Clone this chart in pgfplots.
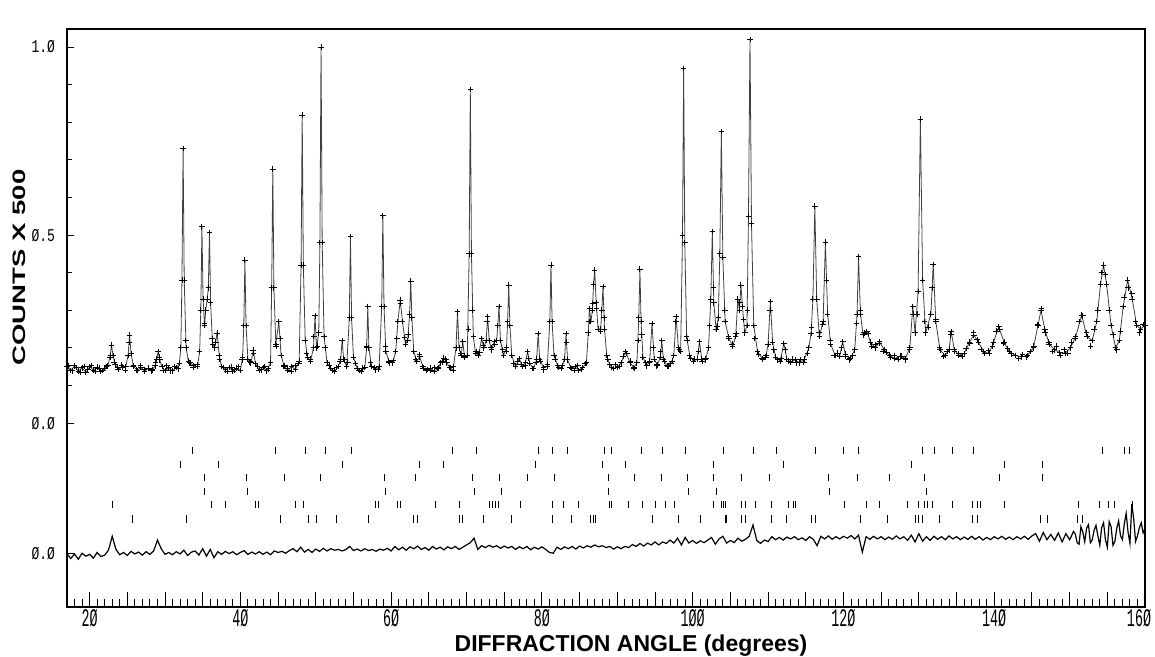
\documentclass[border=0pt]{standalone}
\usepackage{fontspec}
\setmainfont{Liberation Sans}
\newfontfamily\ytfont[FakeStretch=0.72]{Liberation Mono}
\newfontfamily\xtfont[FakeStretch=0.53]{Liberation Mono}
\usepackage{graphicx}
\usepackage{pgfplots}
\usepackage{pgfplotstable}
\pgfplotsset{compat=1.18}

\pgfplotstableread{
x y
17.0 0.150
17.5 0.140
18.0 0.152
18.5 0.138
19.0 0.147
19.5 0.135
20.0 0.150
20.5 0.141
21.0 0.149
21.5 0.137
22.0 0.146
22.4 0.152
22.7 0.175
22.9 0.207
23.1 0.180
23.4 0.155
23.8 0.143
24.3 0.149
24.8 0.150
25.1 0.180
25.3 0.234
25.5 0.185
25.8 0.152
26.3 0.140
26.8 0.148
27.3 0.138
27.8 0.146
28.3 0.142
28.7 0.152
28.9 0.170
29.1 0.190
29.3 0.168
29.6 0.150
30.0 0.140
30.5 0.147
31.0 0.139
31.5 0.148
31.9 0.158
32.1 0.200
32.25 0.380
32.4 0.730
32.55 0.380
32.8 0.200
33.1 0.165
33.4 0.160
33.8 0.152
34.3 0.150
34.6 0.190
34.75 0.300
34.9 0.522
35.05 0.330
35.25 0.260
35.4 0.300
35.6 0.330
35.75 0.360
35.9 0.507
36.05 0.320
36.3 0.210
36.6 0.200
36.9 0.239
37.2 0.180
37.5 0.150
38.0 0.142
38.5 0.148
39.0 0.138
39.5 0.146
40.0 0.140
40.3 0.175
40.45 0.260
40.6 0.433
40.75 0.260
41.0 0.170
41.4 0.160
41.7 0.194
42.0 0.158
42.5 0.141
43.0 0.148
43.5 0.139
44.0 0.160
44.15 0.360
44.3 0.675
44.45 0.360
44.7 0.210
45.1 0.270
45.4 0.180
45.8 0.152
46.3 0.140
46.8 0.150
47.3 0.143
47.8 0.165
48.05 0.420
48.2 0.819
48.35 0.420
48.6 0.220
48.9 0.175
49.3 0.165
49.7 0.200
49.9 0.285
50.1 0.200
50.4 0.240
50.55 0.480
50.7 1.000
50.85 0.480
51.1 0.230
51.5 0.160
52.0 0.145
52.5 0.138
53.0 0.150
53.3 0.170
53.5 0.219
53.7 0.170
54.1 0.150
54.45 0.280
54.6 0.496
54.75 0.280
55.0 0.175
55.5 0.145
56.0 0.138
56.5 0.148
56.75 0.200
56.9 0.310
57.05 0.200
57.4 0.150
57.9 0.142
58.4 0.150
58.75 0.310
58.9 0.551
59.05 0.310
59.3 0.190
59.7 0.165
60.2 0.160
60.6 0.190
60.9 0.270
61.2 0.327
61.5 0.270
61.9 0.210
62.2 0.220
62.45 0.290
62.6 0.378
62.75 0.280
63.0 0.190
63.4 0.165
63.8 0.176
64.2 0.150
64.7 0.140
65.2 0.146
65.7 0.138
66.2 0.145
66.6 0.160
67.0 0.173
67.4 0.160
67.8 0.147
68.2 0.141
68.6 0.200
68.8 0.296
69.0 0.200
69.3 0.180
69.5 0.216
69.75 0.175
70.1 0.180
70.35 0.450
70.5 0.887
70.65 0.450
70.9 0.230
71.2 0.185
71.6 0.180
72.0 0.225
72.3 0.200
72.6 0.220
72.8 0.283
73.0 0.220
73.3 0.195
73.7 0.216
74.0 0.220
74.15 0.260
74.3 0.310
74.5 0.220
74.9 0.180
75.3 0.200
75.45 0.270
75.6 0.367
75.75 0.260
76.0 0.180
76.5 0.150
77.0 0.172
77.4 0.150
77.8 0.160
78.1 0.190
78.4 0.158
78.9 0.145
79.3 0.170
79.5 0.238
79.7 0.170
80.2 0.148
80.7 0.150
81.05 0.270
81.2 0.420
81.35 0.270
81.6 0.180
82.1 0.152
82.6 0.145
83.0 0.170
83.2 0.238
83.4 0.168
83.9 0.145
84.4 0.150
84.9 0.140
85.4 0.148
85.9 0.160
86.15 0.240
86.3 0.305
86.5 0.270
86.7 0.300
86.85 0.370
87.0 0.407
87.2 0.320
87.45 0.250
87.8 0.250
87.95 0.300
88.1 0.363
88.3 0.250
88.6 0.180
89.0 0.155
89.5 0.145
90.0 0.148
90.5 0.160
91.1 0.190
91.7 0.160
92.2 0.148
92.6 0.160
92.85 0.280
93.0 0.409
93.15 0.270
93.4 0.175
93.9 0.152
94.3 0.165
94.6 0.265
94.9 0.170
95.3 0.155
95.7 0.175
95.9 0.220
96.1 0.170
96.6 0.152
97.1 0.158
97.5 0.180
97.8 0.283
98.1 0.200
98.4 0.190
98.65 0.500
98.8 0.943
98.95 0.480
99.2 0.230
99.6 0.180
100.1 0.165
100.6 0.170
100.9 0.216
101.2 0.170
101.7 0.168
102.1 0.200
102.4 0.330
102.6 0.509
102.8 0.320
103.1 0.250
103.4 0.280
103.6 0.450
103.8 0.775
104.0 0.440
104.3 0.270
104.8 0.225
105.3 0.205
105.7 0.230
106.0 0.330
106.2 0.300
106.4 0.367
106.6 0.310
106.9 0.240
107.2 0.260
107.4 0.550
107.6 1.020
107.8 0.530
108.1 0.260
108.6 0.190
109.2 0.172
109.7 0.175
110.0 0.210
110.3 0.323
110.6 0.215
111.0 0.175
111.6 0.165
112.1 0.212
112.5 0.170
113.0 0.162
113.6 0.168
114.2 0.160
114.8 0.170
115.4 0.200
115.7 0.238
115.95 0.330
116.2 0.577
116.45 0.330
116.8 0.230
117.3 0.270
117.6 0.481
117.9 0.290
118.3 0.210
118.9 0.180
119.5 0.178
119.9 0.216
120.3 0.178
120.9 0.172
121.5 0.195
121.8 0.290
122.0 0.442
122.25 0.290
122.6 0.235
123.1 0.243
123.6 0.215
124.2 0.200
124.8 0.216
125.4 0.195
126.1 0.180
126.8 0.172
127.5 0.178
128.2 0.172
128.8 0.200
129.2 0.310
129.5 0.240
129.9 0.350
130.2 0.808
130.5 0.380
130.9 0.240
131.6 0.290
131.9 0.422
132.25 0.270
132.8 0.195
133.5 0.180
134.0 0.195
134.3 0.243
134.7 0.195
135.3 0.180
136.0 0.185
136.7 0.215
137.3 0.234
137.9 0.215
138.6 0.190
139.3 0.185
139.9 0.215
140.6 0.256
141.3 0.215
142.0 0.190
142.8 0.180
143.6 0.176
144.4 0.180
145.2 0.200
145.8 0.260
146.2 0.300
146.7 0.250
147.3 0.210
148.0 0.195
148.7 0.188
149.4 0.185
150.1 0.200
150.8 0.230
151.6 0.287
152.3 0.230
153.0 0.220
153.6 0.270
154.1 0.370
154.5 0.420
154.9 0.370
155.5 0.260
156.1 0.200
156.6 0.220
157.1 0.310
157.7 0.380
158.3 0.330
158.9 0.260
159.4 0.250
160.0 0.260
}\profile

% further observed points between the profile points
\pgfplotstableread{
x y
17.25 0.152
17.75 0.139
18.25 0.148
18.75 0.136
19.25 0.150
19.75 0.143
20.25 0.153
20.75 0.138
21.25 0.146
21.75 0.140
22.25 0.151
22.75 0.180
23.25 0.162
23.75 0.149
24.25 0.154
24.75 0.140
25.25 0.215
25.75 0.150
26.25 0.141
26.75 0.152
27.25 0.143
27.75 0.145
28.25 0.139
28.75 0.160
29.25 0.175
29.75 0.140
30.25 0.152
30.75 0.139
31.25 0.150
31.75 0.144
32.75 0.220
33.25 0.160
33.75 0.148
34.25 0.155
35.25 0.265
36.25 0.225
36.75 0.215
37.25 0.170
37.75 0.148
38.25 0.138
38.75 0.149
39.25 0.142
39.75 0.150
40.25 0.168
41.25 0.163
41.75 0.185
42.25 0.150
42.75 0.142
43.25 0.151
43.75 0.144
44.75 0.205
45.25 0.225
45.75 0.150
46.25 0.146
46.75 0.138
47.25 0.152
47.75 0.158
48.75 0.185
49.25 0.170
49.75 0.230
50.25 0.205
51.25 0.200
51.75 0.152
52.25 0.140
52.75 0.148
53.25 0.165
53.75 0.168
54.25 0.162
55.25 0.158
55.75 0.140
56.25 0.146
56.75 0.205
57.25 0.160
57.75 0.148
58.25 0.143
59.25 0.205
59.75 0.160
60.25 0.166
60.75 0.225
61.25 0.318
61.75 0.228
62.25 0.235
63.25 0.170
63.75 0.182
64.25 0.146
64.75 0.143
65.25 0.140
65.75 0.148
66.25 0.147
66.75 0.163
67.25 0.170
67.75 0.148
68.25 0.150
69.25 0.185
69.75 0.178
70.25 0.250
70.75 0.300
71.25 0.190
71.75 0.188
72.25 0.207
72.75 0.270
73.25 0.200
73.75 0.210
74.75 0.195
75.25 0.190
76.25 0.158
76.75 0.163
77.25 0.156
77.75 0.152
78.25 0.172
78.75 0.145
79.25 0.162
79.75 0.165
80.25 0.142
80.75 0.155
81.75 0.170
82.25 0.148
82.75 0.153
83.25 0.215
83.75 0.148
84.25 0.140
84.75 0.152
85.25 0.143
85.75 0.158
86.25 0.270
86.75 0.318
87.25 0.305
87.75 0.245
88.25 0.280
88.75 0.170
89.25 0.148
89.75 0.155
90.25 0.150
90.75 0.178
91.25 0.185
91.75 0.165
92.25 0.145
92.75 0.220
93.25 0.235
93.75 0.160
94.25 0.160
94.75 0.200
95.25 0.152
95.75 0.190
96.25 0.165
96.75 0.150
97.25 0.165
97.75 0.270
98.25 0.195
99.25 0.220
99.75 0.172
100.25 0.170
100.75 0.190
101.25 0.165
101.75 0.172
102.25 0.260
102.75 0.360
103.25 0.258
104.25 0.300
104.75 0.230
105.25 0.210
105.75 0.238
106.25 0.320
106.75 0.275
107.25 0.300
108.25 0.225
108.75 0.182
109.25 0.170
109.75 0.180
110.25 0.300
110.75 0.195
111.25 0.168
111.75 0.172
112.25 0.195
112.75 0.165
113.25 0.170
113.75 0.160
114.25 0.168
114.75 0.162
115.25 0.185
115.75 0.255
116.75 0.240
117.25 0.262
117.75 0.380
118.25 0.220
118.75 0.180
119.25 0.186
119.75 0.200
120.25 0.183
120.75 0.168
121.25 0.180
121.75 0.265
122.25 0.300
122.75 0.240
123.25 0.238
123.75 0.205
124.25 0.208
124.75 0.212
125.25 0.190
125.75 0.188
126.25 0.175
126.75 0.180
127.25 0.170
127.75 0.178
128.25 0.168
128.75 0.195
129.25 0.290
129.75 0.290
130.75 0.270
131.25 0.255
131.75 0.360
132.25 0.275
132.75 0.200
133.25 0.178
133.75 0.190
134.25 0.235
134.75 0.190
135.25 0.185
135.75 0.178
136.25 0.198
136.75 0.212
137.25 0.240
137.75 0.222
138.25 0.196
138.75 0.185
139.25 0.192
139.75 0.205
140.25 0.245
140.75 0.250
141.25 0.212
141.75 0.198
142.25 0.184
142.75 0.180
143.25 0.172
143.75 0.182
144.25 0.176
144.75 0.190
145.25 0.205
145.75 0.262
146.25 0.305
146.75 0.240
147.25 0.215
147.75 0.190
148.25 0.205
148.75 0.180
149.25 0.195
149.75 0.186
150.25 0.215
150.75 0.225
151.25 0.270
151.75 0.285
152.25 0.240
152.75 0.205
153.25 0.250
153.75 0.300
154.25 0.400
154.75 0.395
155.25 0.300
155.75 0.235
156.25 0.195
156.75 0.245
157.25 0.335
157.75 0.360
158.25 0.345
158.75 0.270
159.25 0.240
159.75 0.262
}\obsextra

\pgfplotstableread{
x y
17.0 -0.347
17.5 -0.360
18.0 -0.348
18.5 -0.362
19.0 -0.346
19.5 -0.354
20.0 -0.349
20.5 -0.359
21.0 -0.344
21.5 -0.355
22.0 -0.351
22.5 -0.338
23.0 -0.301
23.5 -0.336
24.0 -0.350
24.5 -0.344
25.0 -0.352
25.5 -0.341
26.0 -0.348
26.5 -0.343
27.0 -0.351
27.5 -0.342
28.0 -0.349
28.5 -0.340
29.0 -0.311
29.5 -0.334
30.0 -0.349
30.5 -0.344
31.0 -0.350
31.5 -0.342
32.0 -0.348
32.5 -0.338
33.0 -0.352
33.5 -0.343
34.0 -0.340
34.5 -0.351
35.0 -0.334
35.5 -0.354
36.0 -0.336
36.5 -0.358
37.0 -0.342
37.5 -0.349
38.0 -0.341
38.5 -0.347
39.0 -0.342
39.5 -0.350
40.0 -0.344
40.5 -0.339
41.0 -0.349
41.5 -0.343
42.0 -0.348
42.5 -0.342
43.0 -0.349
43.5 -0.343
44.0 -0.350
44.5 -0.340
45.0 -0.344
45.5 -0.341
46.0 -0.346
46.5 -0.339
47.0 -0.334
47.5 -0.342
48.0 -0.330
48.5 -0.343
49.0 -0.336
49.5 -0.344
50.0 -0.335
50.5 -0.341
51.0 -0.333
51.5 -0.340
52.0 -0.334
52.5 -0.338
53.0 -0.336
53.5 -0.340
54.0 -0.336
54.5 -0.328
55.0 -0.339
55.5 -0.335
56.0 -0.340
56.5 -0.334
57.0 -0.339
57.5 -0.336
58.0 -0.341
58.5 -0.335
59.0 -0.338
59.5 -0.333
60.0 -0.340
60.5 -0.328
61.0 -0.337
61.5 -0.330
62.0 -0.338
62.5 -0.329
63.0 -0.334
63.5 -0.327
64.0 -0.336
64.5 -0.331
65.0 -0.338
65.5 -0.328
66.0 -0.335
66.5 -0.330
67.0 -0.337
67.5 -0.329
68.0 -0.334
68.5 -0.328
69.0 -0.336
69.5 -0.330
70.0 -0.324
70.5 -0.318
71.0 -0.306
71.5 -0.336
72.0 -0.326
72.5 -0.331
73.0 -0.325
73.5 -0.330
74.0 -0.326
74.5 -0.333
75.0 -0.327
75.5 -0.332
76.0 -0.328
76.5 -0.336
77.0 -0.329
77.5 -0.334
78.0 -0.328
78.5 -0.337
79.0 -0.330
79.5 -0.335
80.0 -0.329
80.5 -0.336
81.0 -0.344
81.5 -0.346
82.0 -0.330
82.5 -0.336
83.0 -0.329
83.5 -0.334
84.0 -0.328
84.5 -0.335
85.0 -0.327
85.5 -0.332
86.0 -0.326
86.5 -0.330
87.0 -0.324
87.5 -0.329
88.0 -0.326
88.5 -0.331
89.0 -0.328
89.5 -0.335
90.0 -0.329
90.5 -0.334
91.0 -0.328
91.5 -0.331
92.0 -0.323
92.5 -0.328
93.0 -0.320
93.5 -0.327
94.0 -0.319
94.5 -0.324
95.0 -0.316
95.5 -0.324
96.0 -0.316
96.5 -0.320
97.0 -0.311
97.5 -0.319
98.0 -0.306
98.5 -0.324
99.0 -0.304
99.5 -0.319
100.0 -0.312
100.5 -0.320
101.0 -0.313
101.5 -0.318
102.0 -0.311
102.5 -0.304
103.0 -0.322
103.5 -0.308
104.0 -0.301
104.5 -0.319
105.0 -0.312
105.5 -0.318
106.0 -0.306
106.5 -0.314
107.0 -0.309
107.5 -0.301
108.0 -0.271
108.5 -0.312
109.0 -0.320
109.5 -0.311
110.0 -0.315
110.5 -0.302
111.0 -0.310
111.5 -0.304
112.0 -0.311
112.5 -0.303
113.0 -0.308
113.5 -0.302
114.0 -0.310
114.5 -0.305
115.0 -0.312
115.5 -0.302
116.0 -0.309
116.5 -0.326
117.0 -0.301
117.5 -0.308
118.0 -0.300
118.5 -0.309
119.0 -0.302
119.5 -0.308
120.0 -0.301
120.5 -0.306
121.0 -0.299
121.5 -0.308
122.0 -0.298
122.5 -0.343
123.0 -0.302
123.5 -0.309
124.0 -0.301
124.5 -0.308
125.0 -0.302
125.5 -0.310
126.0 -0.303
126.5 -0.309
127.0 -0.300
127.5 -0.308
128.0 -0.302
128.5 -0.312
129.0 -0.298
129.5 -0.316
130.0 -0.294
130.5 -0.314
131.0 -0.302
131.5 -0.312
132.0 -0.301
132.5 -0.309
133.0 -0.302
133.5 -0.310
134.0 -0.300
134.5 -0.308
135.0 -0.302
135.5 -0.310
136.0 -0.303
136.5 -0.309
137.0 -0.301
137.5 -0.309
138.0 -0.302
138.5 -0.311
139.0 -0.304
139.5 -0.310
140.0 -0.302
140.5 -0.308
141.0 -0.301
141.5 -0.309
142.0 -0.303
142.5 -0.310
143.0 -0.302
143.5 -0.308
144.0 -0.301
144.5 -0.309
145.0 -0.300
145.5 -0.294
146.0 -0.314
146.5 -0.291
147.0 -0.310
147.5 -0.296
148.0 -0.312
148.5 -0.292
149.0 -0.316
149.5 -0.294
150.0 -0.310
150.25 -0.300
150.5 -0.288
150.75 -0.295
151.0 -0.318
151.25 -0.322
151.5 -0.275
151.75 -0.290
152.0 -0.315
152.25 -0.280
152.5 -0.270
152.75 -0.318
153.0 -0.310
153.25 -0.285
153.5 -0.272
153.75 -0.300
154.0 -0.325
154.25 -0.278
154.5 -0.265
154.75 -0.310
155.0 -0.330
155.25 -0.262
155.5 -0.275
155.75 -0.325
156.0 -0.315
156.25 -0.280
156.5 -0.260
156.75 -0.300
157.0 -0.310
157.25 -0.268
157.5 -0.240
157.75 -0.290
158.0 -0.320
158.25 -0.215
158.5 -0.255
158.75 -0.315
159.0 -0.300
159.25 -0.278
159.5 -0.265
159.75 -0.292
160.0 -0.280
}\diffc

\begin{document}
\begin{tikzpicture}
\useasboundingbox (-33.5pt,-25pt) rectangle (544pt,303.5pt);
\begin{axis}[
  at={(0pt,0pt)}, anchor=south west,
  scale only axis, width=539pt, height=289pt,
  xmin=17, xmax=160, ymin=-0.489, ymax=1.048,
  axis line style={line width=0.9pt},
  tick align=inside,
  tick pos=left,
  xtick={20,25,...,160},
  xticklabels={2Ø,,,,4Ø,,,,6Ø,,,,8Ø,,,,1ØØ,,,,12Ø,,,,14Ø,,,,\hspace*{-6pt}16Ø},
  minor xtick={18,19,...,160},
  ytick={-0.346,0,0.5,1},
  yticklabels={Ø.Ø,Ø.Ø,Ø.5,1.Ø},
  minor ytick={0.1,0.2,0.3,0.4,0.6,0.7,0.8,0.9},
  xtick style={/pgfplots/major tick length=7.5pt, /pgfplots/minor tick length=4pt, line width=0.5pt, black},
  ytick style={/pgfplots/major tick length=3.5pt, /pgfplots/minor tick length=2.5pt, line width=0.5pt, black},
  xticklabel style={font=\xtfont\fontsize{12.6}{12.6}\selectfont, yshift=2.5pt},
  yticklabel style={font=\ytfont\fontsize{9}{9}\selectfont, xshift=-2.5pt},
]
\addplot[gray!50!black, line width=0.4pt] table[x=x,y=y] {\profile};
\addplot[only marks, mark=+, mark size=1.4pt, mark options={line width=0.45pt}, black] table[x=x,y=y] {\profile};
\addplot[only marks, mark=+, mark size=1.4pt, mark options={line width=0.45pt}, black] table[x=x,y=y] {\obsextra};
\addplot[black, line width=0.6pt] table[x=x,y=y] {\diffc};
% reflection markers, six rows
\addplot[only marks, mark=|, mark size=1.8pt, mark options={line width=0.5pt}, black] coordinates {
(33.7,-0.072)(44.6,-0.072)(48.6,-0.072)(51.3,-0.072)(54.8,-0.072)(68.2,-0.072)(71.3,-0.072)(79.6,-0.072)(81.4,-0.072)(83.4,-0.072)(88.3,-0.072)(89.2,-0.072)(93.2,-0.072)(96.0,-0.072)(99.1,-0.072)(104.1,-0.072)(108.0,-0.072)(111.1,-0.072)(116.3,-0.072)(120.0,-0.072)(122.0,-0.072)(130.5,-0.072)(132.1,-0.072)(134.4,-0.072)(137.3,-0.072)(154.4,-0.072)(157.3,-0.072)(158.0,-0.072)
};
\addplot[only marks, mark=|, mark size=1.8pt, mark options={line width=0.5pt}, black] coordinates {
(32.0,-0.110)(37.1,-0.110)(53.6,-0.110)(63.8,-0.110)(67.0,-0.110)(79.2,-0.110)(88.1,-0.110)(91.1,-0.110)(102.8,-0.110)(112.0,-0.110)(129.0,-0.110)(141.4,-0.110)(146.4,-0.110)
};
\addplot[only marks, mark=|, mark size=1.8pt, mark options={line width=0.5pt}, black] coordinates {
(35.2,-0.145)(40.8,-0.145)(45.9,-0.145)(50.6,-0.145)(59.1,-0.145)(63.2,-0.145)(70.8,-0.145)(74.4,-0.145)(78.1,-0.145)(81.7,-0.145)(88.8,-0.145)(92.3,-0.145)(95.8,-0.145)(99.3,-0.145)(102.8,-0.145)(106.5,-0.145)(110.2,-0.145)(118.0,-0.145)(121.8,-0.145)(126.1,-0.145)(130.7,-0.145)(140.7,-0.145)(146.4,-0.145)
};
\addplot[only marks, mark=|, mark size=1.8pt, mark options={line width=0.5pt}, black] coordinates {
(35.2,-0.181)(41.0,-0.181)(59.3,-0.181)(71.0,-0.181)(74.7,-0.181)(88.8,-0.181)(99.5,-0.181)(103.1,-0.181)(118.1,-0.181)(131.0,-0.181)
};
\addplot[only marks, mark=|, mark size=1.8pt, mark options={line width=0.5pt}, black] coordinates {
(23.1,-0.217)(36.2,-0.217)(38.0,-0.217)(42.0,-0.217)(42.4,-0.217)(47.3,-0.217)(48.4,-0.217)(57.9,-0.217)(58.3,-0.217)(60.8,-0.217)(61.2,-0.217)(65.9,-0.217)(69.0,-0.217)(73.0,-0.217)(73.5,-0.217)(73.9,-0.217)(74.3,-0.217)(77.2,-0.217)(81.4,-0.217)(82.8,-0.217)(84.8,-0.217)(89.0,-0.217)(89.2,-0.217)(91.5,-0.217)(93.3,-0.217)(95.1,-0.217)(96.4,-0.217)(97.6,-0.217)(102.7,-0.217)(103.8,-0.217)(104.1,-0.217)(104.4,-0.217)(106.5,-0.217)(107.0,-0.217)(108.3,-0.217)(110.5,-0.217)(112.7,-0.217)(113.4,-0.217)(113.7,-0.217)(120.2,-0.217)(123.0,-0.217)(124.8,-0.217)(128.5,-0.217)(130.0,-0.217)(130.7,-0.217)(131.1,-0.217)(131.8,-0.217)(134.4,-0.217)(137.1,-0.217)(137.8,-0.217)(138.2,-0.217)(141.3,-0.217)(151.2,-0.217)(153.9,-0.217)(155.1,-0.217)(156.0,-0.217)(158.4,-0.217)
};
\addplot[only marks, mark=|, mark size=1.8pt, mark options={line width=0.5pt}, black] coordinates {
(25.7,-0.255)(32.8,-0.255)(45.3,-0.255)(49.0,-0.255)(50.1,-0.255)(52.8,-0.255)(57.0,-0.255)(62.9,-0.255)(63.5,-0.255)(69.0,-0.255)(69.5,-0.255)(72.3,-0.255)(75.9,-0.255)(81.4,-0.255)(83.9,-0.255)(86.4,-0.255)(86.8,-0.255)(87.1,-0.255)(94.7,-0.255)(98.1,-0.255)(101.0,-0.255)(104.3,-0.255)(104.5,-0.255)(106.5,-0.255)(107.0,-0.255)(110.5,-0.255)(112.4,-0.255)(115.7,-0.255)(116.3,-0.255)(122.2,-0.255)(125.9,-0.255)(129.5,-0.255)(130.0,-0.255)(130.5,-0.255)(132.7,-0.255)(137.1,-0.255)(137.8,-0.255)(146.2,-0.255)(147.0,-0.255)(151.1,-0.255)(151.7,-0.255)
};
\end{axis}
\node[rotate=90, font=\bfseries\fontsize{9}{9}\selectfont] at (-24pt,169.75pt) {\scalebox{1.53}[1]{COUNTS X 500}};
\node[font=\bfseries\fontsize{11.5}{11.5}\selectfont] at (282pt,-19.5pt) {DIFFRACTION ANGLE (degrees)};
\end{tikzpicture}
\end{document}
